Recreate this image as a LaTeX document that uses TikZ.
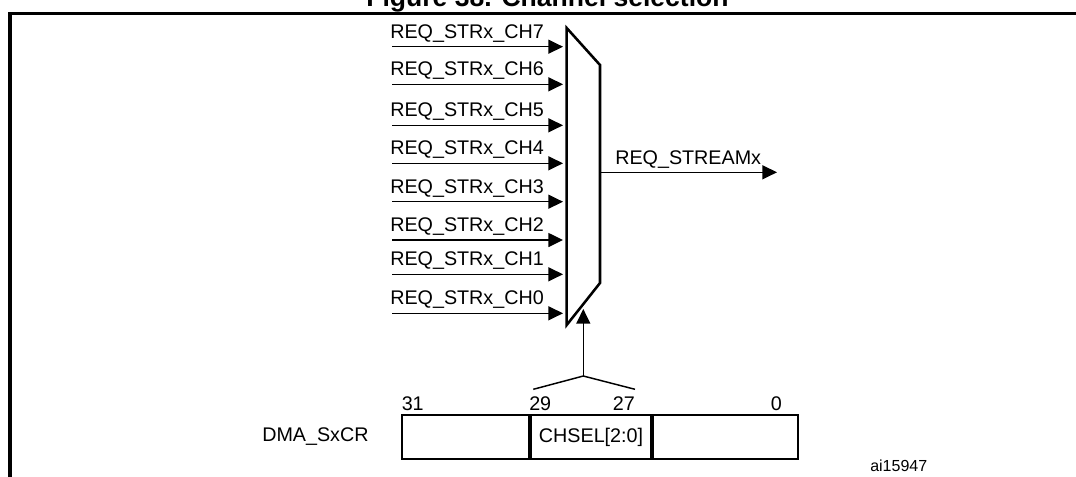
\documentclass[tikz,border=0pt]{standalone}
\usepackage{fontspec}
\setmainfont{Liberation Sans}
\usetikzlibrary{arrows.meta}

\begin{document}
\begin{tikzpicture}[
  x=0.75pt, y=-0.75pt,
  sig/.style={draw, line width=1.1pt, -{Triangle[length=11pt,width=10.5pt]}},
  lbl/.style={font=\fontsize{14.8}{16}\selectfont, inner sep=0pt},
  mux/.style={draw, line width=1.9pt, line join=miter},
  reg/.style={draw, line width=1.5pt, minimum height=32.5pt, inner sep=0pt, font=\fontsize{14.8}{16}\selectfont}
]
  \useasboundingbox (0,0) rectangle (1076,476);

  % frame and title (cut off at the top)
  \begin{scope}
    \clip (0,0) rectangle (1076,476);
    \node[font=\fontsize{19.9}{22}\selectfont\bfseries, anchor=base, inner sep=0pt] (title) at (547.5,6) {Figure 38. Channel selection};
    \draw[line width=2.3pt] (10,480) -- (10,13.5) -- (1080,13.5);
  \end{scope}

  % multiplexer
  \coordinate (mtl) at (566.7,28);
  \coordinate (mtr) at (600,65);
  \coordinate (mbr) at (600,283);
  \coordinate (mbl) at (566.7,325);
  \draw[mux] (mtl) -- (mtr) -- (mbr) -- (mbl) -- cycle;

  % request inputs
  \foreach \ch/\y in {7/46.7,6/84.3,5/125.3,4/163.3,3/201.7,2/240,1/274.3,0/313.3} {
    \coordinate (src\ch) at (392,\y);
    \coordinate (dst\ch) at (563,\y);
    \draw[sig] (src\ch) -- (dst\ch);
    \node[lbl, anchor=base west] (lab\ch) at (390,\y-8.7) {REQ\_STRx\_CH\ch};
  }

  % output
  \coordinate (outsrc) at (600,172.3);
  \coordinate (outdst) at (777,172.3);
  \draw[sig] (outsrc) -- (outdst);
  \node[lbl, anchor=base west] (outlab) at (615,164) {REQ\_STREAMx};

  % DMA_SxCR register
  \node[reg, minimum width=95.7pt, anchor=north west] (bhi) at (400.7,414.3) {};
  \node[reg, minimum width=89.6pt, anchor=north west] (bsel) at (bhi.north east) {CHSEL[2:0]};
  \node[reg, minimum width=108.8pt, anchor=north west] (blo) at (bsel.north east) {};
  \node[lbl, anchor=west] (regname) at (262,436.5) {DMA\_SxCR};
  \node[lbl, anchor=base west] (b31) at (401.5,410) {31};
  \node[lbl, anchor=base west] (b29) at (529,410) {29};
  \node[lbl, anchor=base east] (b27) at (635,410) {27};
  \node[lbl, anchor=base east] (b0) at (782,410) {0};

  % channel select
  \coordinate (brl) at (533.3,389.3);
  \coordinate (brr) at (635,389.3);
  \coordinate (brm) at (583.3,376);
  \coordinate (selend) at (583.3,309);
  \draw[line width=1.1pt] (brl) -- (brm) -- (brr);
  \draw[sig] (brm) -- (selend);

  \node[font=\fontsize{12}{14}\selectfont, inner sep=0pt, anchor=base west] (figid) at (870,471.7) {ai15947};
\end{tikzpicture}
\end{document}
